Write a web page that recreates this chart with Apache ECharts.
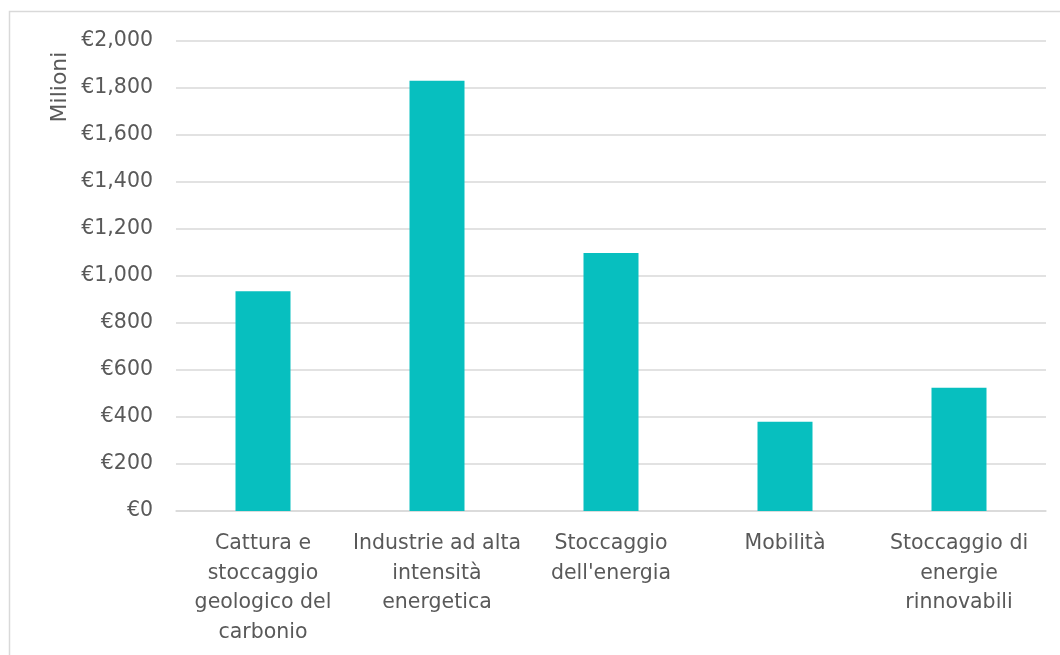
<!DOCTYPE html>
<html>
<head>
<meta charset="utf-8">
<script src="https://cdn.jsdelivr.net/npm/echarts@6/dist/echarts.min.js"></script>
<style>
html,body{margin:0;padding:0;background:#fff;}
#chart{width:1060px;height:655px;}
</style>
</head>
<body>
<div id="chart"></div>
<script>
const categories = [
  "Cattura e\nstoccaggio\ngeologico del\ncarbonio",
  "Industrie ad alta\nintensità\nenergetica",
  "Stoccaggio\ndell'energia",
  "Mobilità",
  "Stoccaggio di\nenergie\nrinnovabili"
];
const values = [935, 1831, 1098, 380, 525];
const yAxisName = "Milioni";

const chart = echarts.init(document.getElementById('chart'));
const fontFam = "'DejaVu Sans', sans-serif";
chart.setOption({
  animation: false,
  backgroundColor: '#fff',
  grid: { left: 176, right: 14, top: 41, bottom: 144 },
  xAxis: {
    type: 'category',
    data: categories,
    axisLine: { lineStyle: { color: '#d9d9d9', width: 1.5 } },
    axisTick: { show: false },
    axisLabel: { color: '#595959', fontSize: 20.5, fontFamily: fontFam, lineHeight: 29.5, margin: 18, interval: 0 }
  },
  yAxis: {
    type: 'value',
    min: 0, max: 2000, interval: 200,
    axisLine: { show: false },
    axisTick: { show: false },
    splitLine: { lineStyle: { color: '#d9d9d9', width: 1.5 } },
    axisLabel: {
      color: '#595959', fontSize: 20.5, fontFamily: fontFam, margin: 23,
      formatter: v => '€' + v.toLocaleString('en-US')
    }
  },
  graphic: [
    { type: 'rect', shape: { x: 9.5, y: 11.5, width: 1100, height: 700 },
      style: { fill: 'none', stroke: '#d9d9d9', lineWidth: 1.5 }, silent: true },
    { type: 'text', x: 60, y: 87, rotation: Math.PI / 2,
      style: { text: yAxisName, fill: '#595959', fontSize: 22, fontFamily: fontFam, textAlign: 'center', textVerticalAlign: 'middle' } }
  ],
  series: [{
    type: 'bar',
    data: values,
    barWidth: 55,
    itemStyle: { color: '#07BFBF' }
  }]
});
</script>
</body>
</html>
